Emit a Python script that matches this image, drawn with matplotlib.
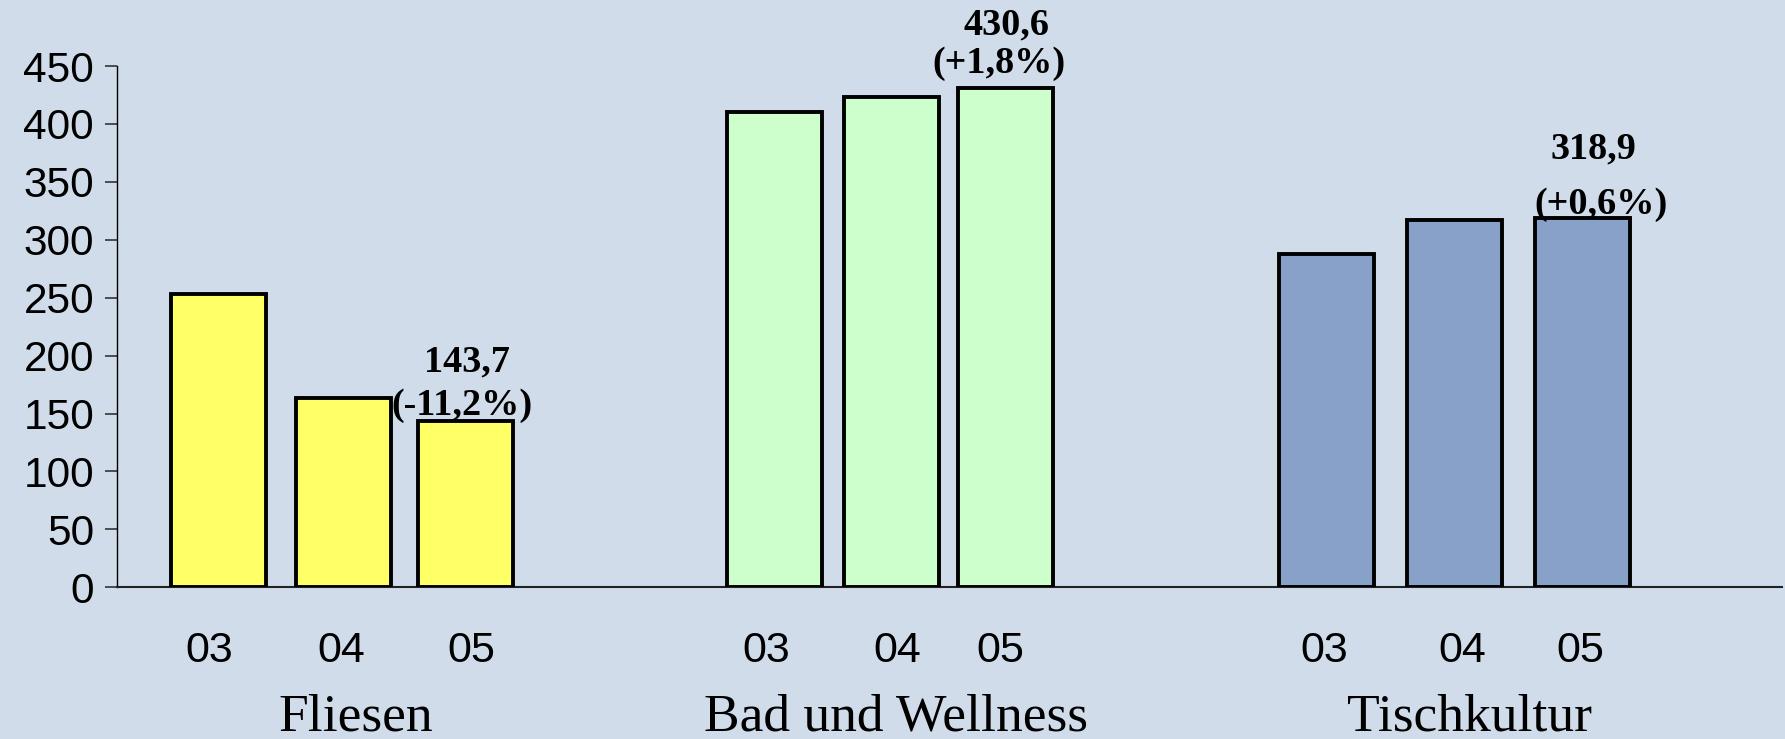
"""Umsatz nach Bereichen 2003-2005, gruppiertes Balkendiagramm."""

import numpy as np
import matplotlib
matplotlib.use("Agg")
import matplotlib.pyplot as plt

# Daten
bereiche = ["Fliesen", "Bad und Wellness", "Tischkultur"]
jahre = ["03", "04", "05"]
fliesen = [253, 163, 143.7]
bad_wellness = [410.5, 423, 430.6]
tischkultur = [288, 317, 318.9]
werte_2005 = ["143,7", "430,6", "318,9"]
veraenderung = ["(-11,2%)", "(+1,8%)", "(+0,6%)"]

farben = ["#FFFF66", "#CCFFCC", "#87A1C8"]
hintergrund = "#D1DCEA"

# Layout (Pixel-ähnliche x-Einheiten)
gruppen_mitte = [342, 890, 1454]
abstaende = [[-124, 1, 123], [-116, 1, 115], [-128, 0, 128]]
label_pos = [[-133, -1, 129], [-124, 7, 110], [-130, 8, 126]]
# Abstand (px) der Mitte beider Annotationszeilen über der Balkenoberkante
anno_unten = [15, 25, 13]
anno_oben = [59, 63, 69]
anno_dx = [(2, -3), (1, -6), (11, 19)]

serien = [fliesen, bad_wellness, tischkultur]

fig = plt.figure(figsize=(17.85, 7.39), dpi=100, facecolor=hintergrund)
W, H = 1785, 739
ax = fig.add_axes([117 / W, 1 - 587.3 / H, (1782 - 117) / W, (587.3 - 66) / H])
ax.set_facecolor(hintergrund)
ax.set_xlim(117, 1782)
ax.set_ylim(0, 450)

px = 0.72  # Punkte pro Pixel bei dpi=100

for i, werte in enumerate(serien):
    xs = [gruppen_mitte[i] + d for d in abstaende[i]]
    ax.bar(xs, werte, width=95, color=farben[i], edgecolor="black",
           linewidth=2.8, zorder=3)
    # Jahreslabels
    for j, lab in enumerate(jahre):
        ax.annotate(lab, xy=(gruppen_mitte[i] + label_pos[i][j], 0),
                    xytext=(0, -64 * px), textcoords="offset points",
                    ha="center", va="center", fontsize=31,
                    family="Liberation Sans", annotation_clip=False)
    # Bereichsname
    ax.annotate(bereiche[i], xy=(gruppen_mitte[i] + (14, 6, 15)[i], 0),
                xytext=(0, -130 * px), textcoords="offset points",
                ha="center", va="center", fontsize=38.5,
                family="Liberation Serif", annotation_clip=False)
    # Wert und Veränderung über dem letzten Balken
    x_last = xs[-1]
    top = werte[-1]
    ax.annotate(veraenderung[i], xy=(x_last, top),
                xytext=(anno_dx[i][1] * px, anno_unten[i] * px),
                textcoords="offset points", ha="center", va="center",
                fontsize=27.5, fontweight="bold", family="Liberation Serif",
                annotation_clip=False, zorder=5)
    ax.annotate(werte_2005[i], xy=(x_last, top),
                xytext=(anno_dx[i][0] * px, anno_oben[i] * px),
                textcoords="offset points", ha="center", va="center",
                fontsize=27.5, fontweight="bold", family="Liberation Serif",
                annotation_clip=False, zorder=5)

ax.set_yticks(np.arange(0, 451, 50))
ax.set_xticks([])
ax.tick_params(axis="y", direction="out", length=8.5, width=1.2,
               color="#333333", pad=8, labelsize=30.5)
for lab in ax.get_yticklabels():
    lab.set_family("Liberation Sans")
ax.spines["top"].set_visible(False)
ax.spines["right"].set_visible(False)
ax.spines["left"].set_linewidth(1.0)
ax.spines["left"].set_bounds(0, 450)
ax.spines["bottom"].set_linewidth(1.5)
ax.spines["bottom"].set_color("#222222")

plt.savefig("out.png", dpi=100, facecolor=hintergrund)
plt.close()
